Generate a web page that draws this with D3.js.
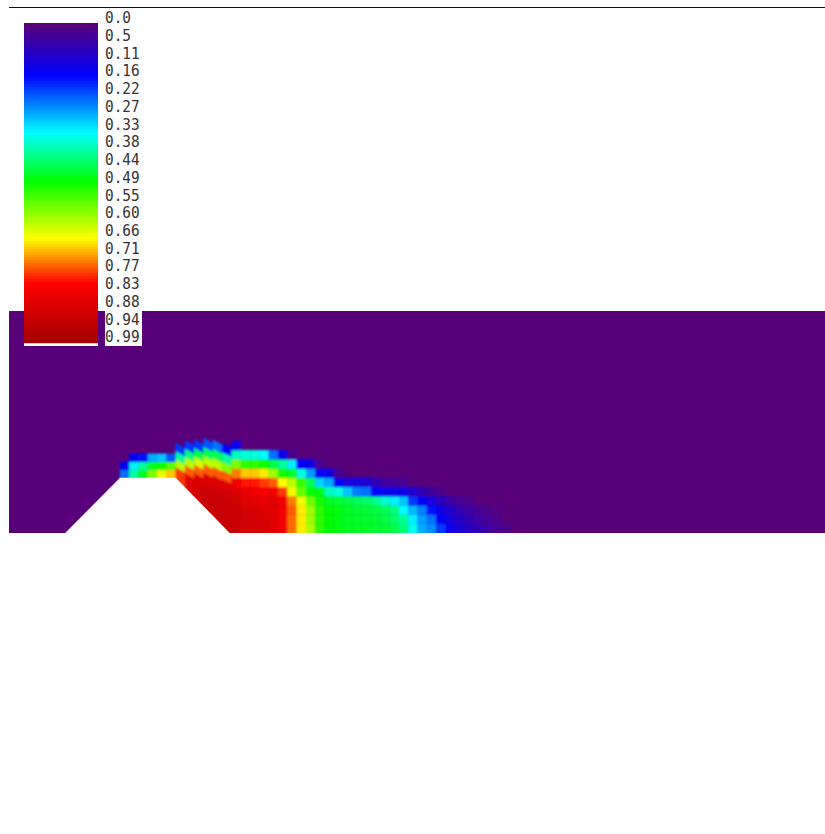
<!DOCTYPE html>
<html>
<head>
<meta charset="UTF-8">
<title>Contour</title>
<script src="https://cdn.jsdelivr.net/npm/d3@7"></script>
<style>
  body { margin: 0; background: #fff; }
  .tick-label { font-family: "DejaVu Sans Mono", monospace; font-size: 14.4px; fill: #333; }
</style>
</head>
<body>
<svg id="svg"></svg>
<script>
var WIDTH = 825;
var HEIGHT = 834;

// legend
var legendLabels = ["0.0","0.5","0.11","0.16","0.22","0.27","0.33","0.38","0.44","0.49","0.55","0.60","0.66","0.71","0.77","0.83","0.88","0.94","0.99"];
var colorStops = [0, 0.16, 0.34, 0.49, 0.67, 0.81, 1];
var colorValues = ["#57007a", "#0000ff", "#00ffff", "#00ff00", "#ffff00", "#ff0000", "#a00000"];

// terrain outline, in cell units: column position / height above the floor
var terrainCols = [-5.9, 0, 6, 11.8];
var terrainRows = [0, 6, 6, 0];

// how far the cells of the slope columns (6 to 11) sit above the ground
var slopeLift = [.3, .65, .76, .87, .6, .1];

// cell values per column, from the ground upward
var columnValues = [
  [.24,.15],
  [.40,.33,.15],
  [.47,.40,.17],
  [.58,.47,.28],
  [.66,.50,.30],
  [.70,.55,.22],
  [.78,.62,.40,.20],
  [.87,.76,.62,.42,.20],
  [.90,.88,.76,.64,.45,.20],
  [.92,.90,.87,.76,.62,.44,.22],
  [.92,.92,.90,.87,.76,.62,.44,.24],
  [.92,.92,.92,.90,.87,.76,.58,.40,.16],
  [.92,.92,.91,.90,.88,.84,.74,.58,.38,.14],
  [.90,.90,.89,.87,.85,.80,.70,.52,.36],
  [.90,.90,.89,.86,.84,.80,.70,.52,.36],
  [.89,.89,.87,.85,.82,.78,.68,.50,.34],
  [.87,.87,.87,.87,.84,.76,.60,.45,.24],
  [.83,.83,.83,.83,.78,.67,.50,.40,.14],
  [.75,.75,.76,.74,.66,.62,.47,.33,.03],
  [.68,.68,.68,.66,.56,.53,.36,.16],
  [.61,.60,.60,.57,.49,.44,.27,.13],
  [.52,.52,.52,.50,.48,.31,.16,.03],
  [.49,.49,.49,.47,.38,.28,.13],
  [.48,.48,.48,.46,.36,.15,.03],
  [.47,.47,.47,.45,.30,.12],
  [.47,.47,.46,.44,.25,.12],
  [.47,.46,.46,.43,.24,.11],
  [.46,.46,.45,.41,.16,.07],
  [.46,.45,.44,.37,.14,.05],
  [.45,.43,.42,.33,.14,.04],
  [.42,.40,.34,.30,.13,.03],
  [.35,.33,.29,.20,.10],
  [.28,.27,.25,.15,.07],
  [.26,.24,.17,.12,.04],
  [.20,.15,.13,.08,.02],
  [.14,.12,.10,.05],
  [.11,.09,.07,.03],
  [.09,.07,.05,.02],
  [.07,.05,.03],
  [.05,.03,.02],
  [.03,.02,.01],
  [.02]
];

var svg = d3.select("#svg").attr("width", WIDTH).attr("height", HEIGHT);

var color = d3.scaleLinear().domain(colorStops).range(colorValues).clamp(true);

// plot scales: one unit = one cell
var CELL_W = 9.3, CELL_H = 9.2;
var TILT = 0.55;
var xScale = d3.scaleLinear().domain([-(120 - 9) / CELL_W, (825 - 120) / CELL_W]).range([9, 825]);
var yScale = d3.scaleLinear().domain([0, (533 - 311) / CELL_H]).range([533, 311]);

var plotX = xScale.range()[0], plotY = yScale.range()[1];
var plotW = xScale.range()[1] - plotX, plotH = yScale.range()[0] - plotY;

// slight softening of the cells, the source picture is a bit blurry
var defs = svg.append("defs");
defs.append("filter")
    .attr("id", "soft")
    .append("feGaussianBlur").attr("stdDeviation", 0.8);
defs.append("clipPath")
    .attr("id", "plot-clip")
    .append("rect")
    .attr("x", plotX).attr("y", plotY)
    .attr("width", plotW).attr("height", plotH);

var ground = d3.scaleLinear().domain(terrainCols).range(terrainRows).clamp(true);

// level k of a column; levels get thinner over the hill
// the lowest level reaches under the ground so the blur has no dark rim
var level = function(col, k) {
  var g = ground(col);
  if (k === 0) return g - 0.4;
  return g + (slopeLift[col - 6] || 0) + k * (1 - 0.13 * g / 6);
};
// right hand edge of a cell does not drop the whole way to the next column
var levelRight = function(col, k) {
  if (k === 0) return ground(col + 1) - 0.4;
  return level(col, k) - TILT * (ground(col) - ground(col + 1));
};

svg.append("line")
   .attr("x1", 9).attr("x2", WIDTH)
   .attr("y1", 7.5).attr("y2", 7.5)
   .attr("stroke", "#111");

var plot = svg.append("g").attr("clip-path", "url(#plot-clip)");

// background
plot.append("rect")
   .attr("x", plotX).attr("y", plotY)
   .attr("width", plotW).attr("height", plotH)
   .attr("fill", color(0));

// cells
var cells = [];
columnValues.forEach(function(vals, c) {
  vals.forEach(function(v, k) { cells.push({c: c, k: k, v: v}); });
});

var line = d3.line();
plot.append("g")
   .attr("filter", "url(#soft)")
   .selectAll("path")
   .data(cells)
   .enter()
   .append("path")
   .attr("d", function(d) {
     return line([
       [xScale(d.c), yScale(level(d.c, d.k))],
       [xScale(d.c + 1), yScale(levelRight(d.c, d.k))],
       [xScale(d.c + 1), yScale(levelRight(d.c, d.k + 1))],
       [xScale(d.c), yScale(level(d.c, d.k + 1))]
     ]) + "Z";
   })
   .attr("fill", function(d) { return color(d.v); })
   .attr("stroke", function(d) { return color(d.v); })
   .attr("stroke-width", 0.4);

// terrain
plot.append("path")
   .attr("d", line(terrainCols.map(function(c, i) {
     return [xScale(c), yScale(terrainRows[i])];
   })) + "Z")
   .attr("fill", "#fff");

// legend bar
var legendY = d3.scaleLinear().domain([0, 1]).range([23, 343]);
svg.append("rect").attr("x", 24).attr("y", 343).attr("width", 74).attr("height", 3).attr("fill", "#fff");
svg.append("g").selectAll("rect")
   .data(d3.range(0, 1, 1 / 160))
   .enter()
   .append("rect")
   .attr("x", 24)
   .attr("width", 74)
   .attr("y", function(d) { return legendY(d); })
   .attr("height", legendY(1 / 160) - legendY(0) + 0.2)
   .attr("fill", function(d) { return color(d); });

// legend labels
var labelY = d3.scalePoint().domain(legendLabels).range([17.5, 336.5]);
svg.append("rect").attr("x", 105).attr("y", 311).attr("width", 37).attr("height", 35).attr("fill", "#fff");
svg.append("g").selectAll("text")
   .data(legendLabels)
   .enter()
   .append("text")
   .attr("class", "tick-label")
   .attr("transform", function(d) { return "translate(105," + labelY(d) + ") scale(1,1.12)"; })
   .attr("dy", "0.36em")
   .text(function(d) { return d; });
</script>
</body>
</html>
